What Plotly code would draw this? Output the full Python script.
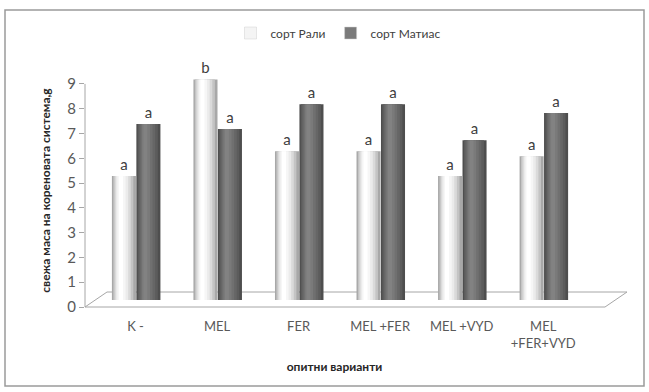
import plotly.graph_objects as go

categories = ["K -", "MEL", "FER", "MEL +FER", "MEL +VYD", "MEL<br>+FER+VYD"]
rali = [5.0, 8.9, 6.0, 6.0, 5.0, 5.8]
matias = [7.1, 6.9, 7.9, 7.9, 6.45, 7.55]
rali_letters = ["a", "b", "a", "a", "a", "a"]
matias_letters = ["a", "a", "a", "a", "a", "a"]
y_ticks = list(range(0, 10))

FONT = "Lato"
L, R, T, B = 85, 65, 74, 85
W, H = 649, 392
pw, ph = W - L - R, H - T - B
FLOOR_DEPTH = 0.28  # bars stand mid-depth on the 3D floor
Y_TOP = 9.4

def px(x):
    return (x - L) / pw

def py(y):
    return (H - B - y) / ph

fig = go.Figure()

def cylinder(values, letters, name, off, wid, shades, legend_color):
    n = len(shades)
    for i, c in enumerate(shades):
        frac = 1 - i / n
        w = wid * frac
        o = off + (wid - w) * 0.35
        fig.add_trace(go.Bar(x=categories, y=values, base=FLOOR_DEPTH, offset=o, width=w,
                             marker=dict(color=c, line=dict(width=0)),
                             showlegend=False, hoverinfo="skip",
                             text=letters if i == 0 else None,
                             textposition="outside" if i == 0 else None,
                             textfont=dict(family=FONT, size=15, color="#404040"),
                             cliponaxis=False))
    fig.add_trace(go.Bar(x=[None], y=[None], name=name,
                         marker=dict(color=legend_color, line=dict(color="#d0d0d0", width=0.5))))

cylinder(rali, rali_letters, "сорт Рали", -0.29, 0.295,
         ["#a8a8a8", "#c4c4c4", "#dadada", "#ebebeb", "#f6f6f6", "#ffffff"], "#f4f4f4")
cylinder(matias, matias_letters, "сорт Матиас", 0.01, 0.295,
         ["#4e4e4e", "#5c5c5c", "#666666", "#707070", "#7a7a7a", "#828282"], "#7a7a7a")

floor = (f"M {px(85)} {py(307)} L {px(605)} {py(307)} L {px(627)} {py(292)} "
         f"L {px(107)} {py(292)} Z")

fig.update_layout(
    width=W, height=H,
    margin=dict(l=L, r=R, t=T, b=B),
    paper_bgcolor="white", plot_bgcolor="white",
    barmode="overlay",
    font=dict(family=FONT, size=13, color="#595959"),
    legend=dict(orientation="h", x=px(338), xanchor="center", y=py(33), yanchor="middle",
                font=dict(family=FONT, size=12, color="#404040"),
                itemwidth=30, traceorder="normal"),
    xaxis=dict(range=[-0.62, 5.5], showgrid=False, zeroline=False, showline=False,
               ticks="", ticklabelstandoff=10,
               tickfont=dict(family=FONT, size=13, color="#595959"),
               title=dict(text="<b>опитни варианти</b>", standoff=12,
                          font=dict(family=FONT, size=12, color="#262626"))),
    yaxis=dict(range=[0, Y_TOP], tickvals=y_ticks, showgrid=False, zeroline=False,
               showline=False,
               ticks="outside", ticklen=5, tickcolor="#a6a6a6",
               tickfont=dict(family=FONT, size=15, color="#595959"),
               title=dict(text="<b>свежа маса на кореновата система,g</b>", standoff=14,
                          font=dict(family=FONT, size=12, color="#262626"))),
    shapes=[
        dict(type="path", path=floor, xref="paper", yref="paper",
             line=dict(color="#a6a6a6", width=1), layer="below"),
        dict(type="line", xref="paper", yref="y", x0=0, x1=0,
             y0=y_ticks[0], y1=y_ticks[-1], line=dict(color="#a6a6a6", width=1)),
        dict(type="rect", xref="paper", yref="paper",
             x0=px(5), x1=px(644), y0=py(386), y1=py(10),
             line=dict(color="#9a9a9a", width=1.5)),
    ],
)

fig.write_html("out.html", config={"displayModeBar": False},
               post_script="document.body.style.margin='0';document.body.style.overflow='hidden';")
